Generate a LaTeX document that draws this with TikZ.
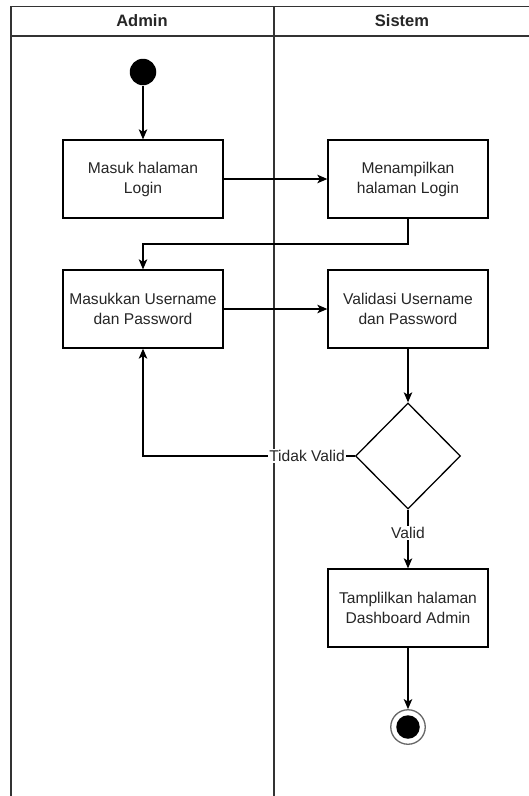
\documentclass[tikz,border=0pt]{standalone}
\usepackage{fontspec}
\setmainfont{Liberation Sans}
\usetikzlibrary{arrows.meta,shapes.geometric}
\begin{document}
\begin{tikzpicture}[x=1pt,y=-1pt,
  line width=1.3pt,
  lane/.style={draw=black!80, line width=1.4pt},
  lanetitle/.style={font=\fontsize{16.5}{19}\selectfont\bfseries, text=black!85},
  action/.style={draw, fill=white, minimum width=160pt, minimum height=78pt,
    align=center, inner sep=2pt, font=\fontsize{15.6}{20}\selectfont, text=black!85},
  decision/.style={draw, fill=white, diamond, minimum width=105pt, minimum height=106pt,
    inner sep=0pt},
  flow/.style={draw, -{Stealth[length=10pt,width=8.5pt,inset=2.5pt]}},
  elabel/.style={fill=white, inner sep=1pt, font=\fontsize{15.6}{19}\selectfont, text=black!85}]
\useasboundingbox (0,0) rectangle (529,796);
\fill[white] (0,0) rectangle (529,796);

% swimlanes
\draw[lane] (529,6.5) -- (11,6.5) -- (11,796);
\draw[lane] (11,36) -- (529,36);
\draw[lane] (274,6.5) -- (274,796);
\node[lanetitle] (tadmin) at (142,21) {Admin};
\node[lanetitle] (tsistem) at (402,21) {Sistem};

% activities
\node[circle, fill=black, minimum size=26.5pt, inner sep=0pt] (start) at (143,72) {};
\node[action] (masuk) at (143,179) {Masuk halaman\\Login};
\node[action] (tampil) at (408,179) {Menampilkan\\halaman Login};
\node[action] (input) at (143,309) {Masukkan Username\\dan Password};
\node[action] (valid) at (408,309) {Validasi Username\\dan Password};
\node[decision] (cek) at (408,456) {};
\node[action] (dash) at (408,608) {Tamplilkan halaman\\Dashboard Admin};
\node[circle, draw=black!60, line width=1.3pt, fill=white, minimum size=34.5pt, inner sep=0pt] (end) at (408,727) {};
\node[circle, fill=black, minimum size=23.5pt, inner sep=0pt] (endin) at (end.center) {};

% control flow
\draw[flow] (start) -- (masuk);
\draw[flow] (masuk) -- (tampil);
\draw[flow] (tampil.south) -- (408,244) -- (143,244) -- (input.north);
\draw[flow] (input) -- (valid);
\draw[flow] (valid) -- (cek);
\draw[flow] (cek.west) -- (143,456) -- (input.south);
\node[elabel] (ltidak) at (307,456) {Tidak Valid};
\draw[flow] (cek.south) -- (dash.north);
\node[elabel] (lvalid) at (408,533) {Valid};
\draw[flow] (dash) -- (end);
\end{tikzpicture}
\end{document}
